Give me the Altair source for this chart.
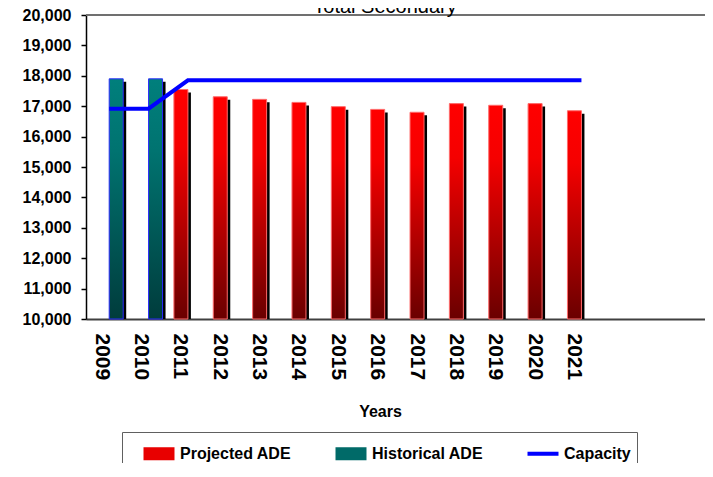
import altair as alt
import pandas as pd

# ---- data ----
hist_years = [2009, 2010]
hist_values = [17900, 17900]
proj_years = [2011, 2012, 2013, 2014, 2015, 2016, 2017, 2018, 2019, 2020, 2021]
proj_values = [17550, 17310, 17225, 17125, 16985, 16895, 16800, 17085, 17030, 17085, 16850]
cap_years = [2009, 2010, 2011, 2012, 2013, 2014, 2015, 2016, 2017, 2018, 2019, 2020, 2021]
cap_values = [16920, 16920, 17850, 17850, 17850, 17850, 17850, 17850, 17850, 17850, 17850, 17850, 17850]
tick_years = [2009, 2010, 2011, 2012, 2013, 2014, 2015, 2016, 2017, 2018, 2019, 2020, 2021]
y_ticks = [10000, 11000, 12000, 13000, 14000, 15000, 16000, 17000, 18000, 19000, 20000]
legend_labels = ["Projected ADE", "Historical ADE", "Capacity"]
legend_colors = ["#e80000", "#006a68", "#0000ff"]
legend_shapes = ["M0,-0.42H2V0.42H0Z", "M0,-0.42H2V0.42H0Z", "M0,-0.13H2V0.13H0Z"]
title_text = "Total Secondary"

FONT = "Liberation Sans, Arial, sans-serif"

hist = pd.DataFrame({"year": hist_years, "value": hist_values})
proj = pd.DataFrame({"year": proj_years, "value": proj_values})
cap = pd.DataFrame({"year": cap_years, "value": cap_values})

xscale = alt.Scale(domain=[2008.5375, 2024.0125], nice=False, zero=False)
yscale = alt.Scale(domain=[10000, 20000], nice=False, zero=False)

x_axis = alt.Axis(
    values=tick_years,
    labelExpr="'' + datum.value",
    grid=False,
    ticks=False,
    tickSize=0,
    labelAngle=90,
    labelFont=FONT,
    labelFontSize=21,
    labelFontWeight="bold",
    labelColor="#000000",
    labelPadding=14,
    labelOffset=-8,
    labelOverlap=False,
    domainColor="#404040",
    domainWidth=2,
    title="Years",
    titleFont=FONT,
    titleFontSize=16,
    titleFontWeight="bold",
    titleColor="#000000",
    titleX=294,
    titleY=97,
    titleBaseline="alphabetic",
    titleAlign="center",
)
y_axis = alt.Axis(
    values=y_ticks,
    labelExpr="format(datum.value, ',')",
    grid=False,
    tickSize=5,
    tickColor="#000000",
    tickWidth=1.5,
    domainColor="#000000",
    domainWidth=1.5,
    labelFont=FONT,
    labelFontSize=16,
    labelFontWeight="bold",
    labelColor="#000000",
    labelPadding=10,
    title=None,
)

x_enc = alt.X("year:Q", scale=xscale, axis=x_axis)
y_enc = alt.Y("value:Q", scale=yscale, axis=y_axis)

red_grad = alt.Gradient(
    gradient="linear",
    stops=[
        alt.GradientStop(color="#ff0000", offset=0),
        alt.GradientStop(color="#f50000", offset=0.25),
        alt.GradientStop(color="#6a0000", offset=1),
    ],
    x1=0, x2=0, y1=0, y2=1,
)
teal_grad = alt.Gradient(
    gradient="linear",
    stops=[
        alt.GradientStop(color="#007f7c", offset=0),
        alt.GradientStop(color="#007370", offset=0.3),
        alt.GradientStop(color="#003c3c", offset=1),
    ],
    x1=0, x2=0, y1=0, y2=1,
)

shadow_hist = alt.Chart(hist).mark_bar(
    color="#000000", width=14, xOffset=10, yOffset=3
).encode(x=x_enc, y=y_enc, y2=alt.datum(10000))
shadow_proj = alt.Chart(proj).mark_bar(
    color="#000000", width=14, xOffset=-4, yOffset=3
).encode(x=x_enc, y=y_enc, y2=alt.datum(10000))

bars_hist = alt.Chart(hist).mark_bar(
    fill=teal_grad, stroke="#2a2aff", strokeWidth=1, width=14, xOffset=7
).encode(x=x_enc, y=y_enc, y2=alt.datum(10000))
bars_proj = alt.Chart(proj).mark_bar(
    fill=red_grad, stroke="#ff6a6a", strokeWidth=1, width=14, xOffset=-7
).encode(x=x_enc, y=y_enc, y2=alt.datum(10000))

line = alt.Chart(cap).mark_line(color="#0000ff", strokeWidth=4).encode(x=x_enc, y=y_enc)

top_rule = alt.Chart(pd.DataFrame({"value": [20000]})).mark_rule(
    color="#707070", strokeWidth=2
).encode(y=y_enc)

title = alt.Chart(pd.DataFrame({"t": [title_text]})).mark_text(
    font=FONT, fontSize=20, fontWeight="normal", color="#000000",
    align="center", baseline="alphabetic"
).encode(text="t:N", x=alt.value(299), y=alt.value(-2))

legend_layer = alt.Chart(
    pd.DataFrame({"series": legend_labels, "year": [2009, 2009, 2009], "value": [10000, 10000, 10000]})
).transform_filter("false").mark_point(filled=True, opacity=1).encode(
    x=x_enc,
    y=y_enc,
    color=alt.Color(
        "series:N",
        scale=alt.Scale(domain=legend_labels, range=legend_colors),
        legend=alt.Legend(
            title=None,
            orient="none",
            legendX=36,
            legendY=417,
            direction="horizontal",
            padding=6,
            strokeColor="#606060",
            symbolSize=961,
            symbolStrokeWidth=0,
            labelFont=FONT,
            labelFontSize=16,
            labelFontWeight="bold",
            labelColor="#000000",
            labelOffset=21,
            columnPadding=28,
            labelLimit=300,
        ),
    ),
    shape=alt.Shape(
        "series:N",
        scale=alt.Scale(domain=legend_labels, range=legend_shapes),
    ),
)

chart = alt.layer(
    shadow_hist, shadow_proj, bars_hist, bars_proj, line, top_rule, title, legend_layer
).properties(
    width=619,
    height=304,
    padding={"left": 78, "top": 7, "right": 0, "bottom": 144},
    autosize=alt.AutoSizeParams(type="none"),
).configure_view(stroke=None)

chart.save("out.html", embed_options={"renderer": "svg", "actions": False})
